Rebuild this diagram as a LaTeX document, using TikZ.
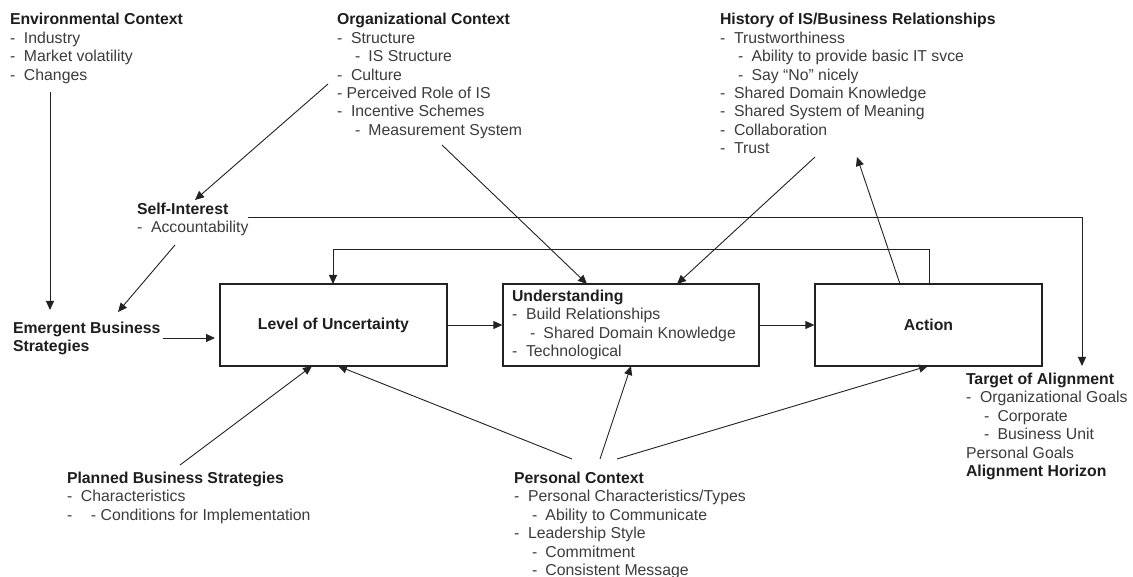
\documentclass[tikz,border=0pt]{standalone}
\usepackage{fontspec}
\setmainfont{Liberation Sans}
\usetikzlibrary{arrows.meta}

\definecolor{ttl}{HTML}{1E1E1E}
\definecolor{txtgray}{HTML}{3C3C3C}
\definecolor{linegray}{HTML}{222222}

% heading and list-level helpers
\newcommand\headtxt[1]{\textcolor{ttl}{\bfseries #1}}
\newcommand\dashA[1]{\makebox[14pt][l]{-}#1}
\newcommand\dashB[1]{\hspace*{18pt}\makebox[13.5pt][l]{-}#1}

\begin{document}
\begin{tikzpicture}[x=1pt,y=-1pt,
  txt/.style={anchor=base west, inner sep=0pt, outer sep=0pt, text=txtgray,
    font=\fontsize{15.8pt}{18.4pt}\selectfont},
  stagebox/.style={draw=linegray, line width=1.3pt, inner sep=0pt,
    minimum height=82pt, text=ttl, font=\fontsize{15.8pt}{18.4pt}\selectfont\bfseries},
  arr/.style={draw=linegray, line width=0.9pt,
    -{Triangle[length=9pt,width=8pt]}},
  ln/.style={draw=linegray, line width=0.9pt}
]
\useasboundingbox (0,0) rectangle (1133,577);
\fill[white] (0,0) rectangle (1133,577);

% ---- text blocks ----
\node[txt] (env) at (10,25) {\begin{tabular}[t]{@{}l@{}}
\headtxt{Environmental Context}\\
\dashA{Industry}\\
\dashA{Market volatility}\\
\dashA{Changes}
\end{tabular}};

\node[txt] (org) at (337,25) {\begin{tabular}[t]{@{}l@{}}
\headtxt{Organizational Context}\\
\dashA{Structure}\\
\dashB{IS Structure}\\
\dashA{Culture}\\
- Perceived Role of IS\\
\dashA{Incentive Schemes}\\
\dashB{Measurement System}
\end{tabular}};

\node[txt] (hist) at (720,25) {\begin{tabular}[t]{@{}l@{}}
\headtxt{History of IS/Business Relationships}\\
\dashA{Trustworthiness}\\
\dashB{Ability to provide basic IT svce}\\
\dashB{Say ``No'' nicely}\\
\dashA{Shared Domain Knowledge}\\
\dashA{Shared System of Meaning}\\
\dashA{Collaboration}\\
\dashA{Trust}
\end{tabular}};

\node[txt] (self) at (137,214.5) {\begin{tabular}[t]{@{}l@{}}
\headtxt{Self-Interest}\\
\dashA{Accountability}
\end{tabular}};

\node[txt] (emg) at (13,333.5) {\begin{tabular}[t]{@{}l@{}}
\headtxt{Emergent Business}\\
\headtxt{Strategies}
\end{tabular}};

\node[txt] (tgt) at (966,384.5) {\begin{tabular}[t]{@{}l@{}}
\headtxt{Target of Alignment}\\
\dashA{Organizational Goals}\\
\dashB{Corporate}\\
\dashB{Business Unit}\\
Personal Goals\\
\headtxt{Alignment Horizon}
\end{tabular}};

\node[txt] (pbs) at (67,483.5) {\begin{tabular}[t]{@{}l@{}}
\headtxt{Planned Business Strategies}\\
\dashA{Characteristics}\\
\makebox[24pt][l]{-}- Conditions for Implementation
\end{tabular}};

\node[txt] (pc) at (514,483.5) {\begin{tabular}[t]{@{}l@{}}
\headtxt{Personal Context}\\
\dashA{Personal Characteristics/Types}\\
\dashB{Ability to Communicate}\\
\dashA{Leadership Style}\\
\dashB{Commitment}\\
\dashB{Consistent Message}
\end{tabular}};

% ---- the three stage boxes ----
\node[stagebox, minimum width=227pt] (lou) at (333.5,325) {Level of Uncertainty};
\node[stagebox, minimum width=256pt] (und) at (631,325) {};
\node[txt] (undtxt) at (512,301.5) {\begin{tabular}[t]{@{}l@{}}
\headtxt{Understanding}\\
\dashA{Build Relationships}\\
\dashB{Shared Domain Knowledge}\\
\dashA{Technological}
\end{tabular}};
\node[stagebox, minimum width=227pt] (act) at (928.5,325) {Action};

% ---- connector end points ----
\coordinate (envS)   at (50,92);
\coordinate (emgN)   at (50,310);
\coordinate (orgA)   at (328,84);
\coordinate (selfN)  at (195,200);
\coordinate (selfS)  at (175,245);
\coordinate (emgNE)  at (118,312);
\coordinate (emgE)   at (163,338);
\coordinate (louW)   at (215,338);
\coordinate (selfE)  at (248,217);
\coordinate (tgtTurn) at (1082,217);
\coordinate (tgtN)   at (1082,366);
\coordinate (actUp)  at (929,284);
\coordinate (fbR)    at (929,249);
\coordinate (fbL)    at (333,249);
\coordinate (louN)   at (333,284);
\coordinate (orgS)   at (442,145);
\coordinate (undN1)  at (587,284);
\coordinate (histS)  at (815,157);
\coordinate (undN2)  at (677,284);
\coordinate (actN)   at (900,284);
\coordinate (histA)  at (857,157);
\coordinate (pbsN)   at (180,465);
\coordinate (louS1)  at (312,366);
\coordinate (pcN1)   at (572,459);
\coordinate (louS2)  at (338,366);
\coordinate (pcN2)   at (600,459);
\coordinate (undS)   at (631,366);
\coordinate (pcN3)   at (617,459);
\coordinate (actS)   at (928,366);

% ---- connectors ----
\draw[arr] (envS) -- (emgN);
\draw[arr] (orgA) -- (selfN);
\draw[arr] (selfS) -- (emgNE);
\draw[arr] (emgE) -- (louW);
\draw[arr] (lou.east) -- (und.west);
\draw[arr] (und.east) -- (act.west);
\draw[arr] (actUp) -- (fbR) -- (fbL) -- (louN);
\draw[arr] (selfE) -- (tgtTurn) -- (tgtN);
\draw[arr] (orgS) -- (undN1);
\draw[arr] (histS) -- (undN2);
\draw[arr] (actN) -- (histA);
\draw[arr] (pbsN) -- (louS1);
\draw[arr] (pcN1) -- (louS2);
\draw[arr] (pcN2) -- (undS);
\draw[arr] (pcN3) -- (actS);
\end{tikzpicture}
\end{document}
